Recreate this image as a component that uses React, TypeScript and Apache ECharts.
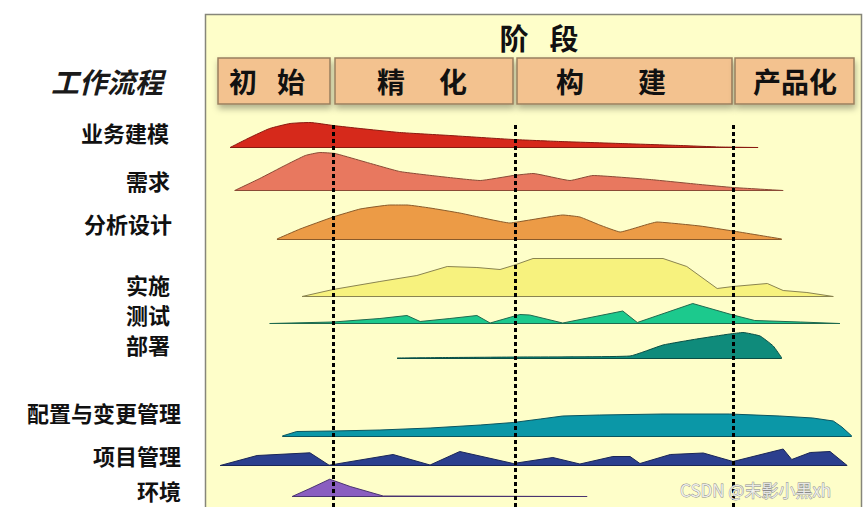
import React, { useEffect, useRef } from 'react';
import * as echarts from 'echarts';

const FONT = '"Noto Sans CJK SC", "Noto Sans", sans-serif';

// Workflow categories and phase names
const workflows = ['业务建模', '需求', '分析设计', '实施', '测试', '部署', '配置与变更管理', '项目管理', '环境'];
const phases = ['初始', '精化', '构建', '产品化'];
// Phase boundaries on the time axis (0–100)
const phaseBoundaries = [19.4, 47.0, 80.0];

// Time (0–100) and effort level for each workflow
const tBusiness = [3.8, 6.8, 9.8, 12.9, 15.9, 19.4, 23.5, 29.5, 37.1, 46.7, 53.8, 62.9, 72.0, 78.0, 83.8];
const hBusiness = [0, 10, 19, 24, 25, 22, 19, 15, 12, 8, 6, 4, 2, 0.5, 0];

const tRequire = [4.5, 8.3, 12.1, 15.2, 17.4, 19.7, 23.5, 29.5, 35.6, 41.7, 46.7, 49.7, 55.3, 58.8, 67.4, 75.0, 80.0, 87.6];
const hRequire = [0, 12, 25, 35, 38, 37, 30, 19, 14, 10, 15, 17, 10, 15, 11, 6, 3, 0];

const tDesign = [10.9, 14.4, 19.4, 23.5, 28.0, 30.6, 34.1, 38.6, 46.2, 49.2, 54.2, 56.8, 59.8, 62.9, 68.5, 75.0, 80.0, 87.4];
const hDesign = [0, 10, 22, 30, 34, 34, 31, 26, 16, 19, 24, 22, 14, 7, 17, 13, 8, 0];

const tImpl = [14.7, 19.4, 26.5, 32.1, 36.7, 41.2, 44.7, 46.7, 49.7, 69.4, 73.0, 77.6, 80.0, 85.2, 87.6, 91.2, 95.2];
const hImpl = [0, 7, 15, 21, 30, 29, 27, 31, 38, 38, 30, 8, 10, 13, 6, 4, 0];

const tTest = [9.8, 19.4, 26.5, 30.6, 32.6, 37.1, 41.2, 43.2, 47.7, 49.2, 54.2, 63.3, 65.5, 73.9, 80.0, 83.3, 90.2, 96.2];
const hTest = [0, 1.5, 5, 8, 2, 5, 8, 0.5, 9, 8.5, 0.5, 12.5, 1, 20, 8.5, 3, 1.5, 0];

const tDeploy = [29.1, 37.1, 47.7, 64.4, 69.4, 74.5, 79.5, 81.5, 84.1, 86.1, 87.4];
const hDeploy = [0, 0.5, 1, 2, 13, 19, 24, 25.5, 22, 12, 0];

const tConfig = [11.7, 13.9, 19.4, 26.5, 34.1, 41.7, 46.7, 50.8, 54.2, 59.8, 69.4, 79.5, 87.1, 92.1, 95.2, 96.5, 98.0];
const hConfig = [0, 4.5, 5, 6, 8, 11, 13.5, 17, 20, 21, 22, 22, 20, 18, 15, 9, 0];

const tProject = [2.3, 7.9, 15.9, 18.8, 28.5, 34.1, 38.6, 46.7, 52.7, 56.8, 61.8, 64.4, 65.9, 70.5, 75.5, 80.0, 87.6, 88.9, 91.7, 94.7, 97.3];
const hProject = [0, 10, 12.7, 0.3, 11, 0.5, 14, 2, 8, 1.5, 9, 9, 2, 11, 12.5, 4, 16.5, 6, 13, 14, 0];

const tEnv = [13.2, 15.9, 18.9, 22.0, 27.0, 57.9];
const hEnv = [0, 8, 17.3, 10, 0.5, 0];

const times = [tBusiness, tRequire, tDesign, tImpl, tTest, tDeploy, tConfig, tProject, tEnv];
const levels = [hBusiness, hRequire, hDesign, hImpl, hTest, hDeploy, hConfig, hProject, hEnv];

// Styling / layout (kept apart from data)
const fills = ['#d6291b', '#e8785f', '#ec9b46', '#f7f27e', '#1cc98d', '#0f8b7b', '#0b97a7', '#2b3f8e', '#8a5ec0'];
const strokes = ['#8a1a10', '#8a4a36', '#8a5a2a', '#8a8450', '#1f6a4e', '#0a4f46', '#0a5560', '#1a2658', '#4a3470'];
const smoothness = [0.15, 0.12, 0.1, 0, 0, 0.12, 0, 0, 0];
const baselines = [147.5, 190.5, 239, 296.5, 323.5, 358, 436, 465.5, 496.5];
const labelY = [132, 180, 223, 284, 314, 344, 412, 455, 490];
const labelRight = [169, 170, 172, 170, 170, 170, 181, 181, 181];

const PANEL_LEFT = 205;
const PANEL_W = 660;
const ROW_H = 40;

export default function App() {
  const ref = useRef<HTMLDivElement>(null);
  useEffect(() => {
    const chart = echarts.init(ref.current as HTMLDivElement, null, { renderer: 'svg' });

    const grids: any[] = [];
    const xAxes: any[] = [];
    const yAxes: any[] = [];
    const series: any[] = [];

    workflows.forEach((name, i) => {
      grids.push({ left: PANEL_LEFT, width: PANEL_W, top: baselines[i] - ROW_H, height: ROW_H });
      xAxes.push({ gridIndex: i, type: 'value', min: 0, max: 100, show: false });
      yAxes.push({ gridIndex: i, type: 'value', min: 0, max: ROW_H, show: false });
      const t = times[i];
      const h = levels[i];
      series.push({
        name,
        type: 'line',
        xAxisIndex: i,
        yAxisIndex: i,
        data: t.map((x, j) => [x, h[j]]),
        symbol: 'none',
        smooth: smoothness[i],
        lineStyle: { color: strokes[i], width: 1 },
        areaStyle: { color: fills[i], opacity: 1 },
        markLine: {
          silent: true,
          symbol: 'none',
          label: { show: false },
          lineStyle: { color: strokes[i], width: 1, type: 'solid' },
          data: [[{ coord: [t[0], 0] }, { coord: [t[t.length - 1], 0] }]],
        },
      });
    });

    // overlay grid for phase boundaries
    const ov = workflows.length;
    grids.push({ left: PANEL_LEFT, width: PANEL_W, top: 125, height: 382 });
    xAxes.push({ gridIndex: ov, type: 'value', min: 0, max: 100, show: false });
    yAxes.push({ gridIndex: ov, type: 'value', min: 0, max: 1, show: false });
    series.push({
      type: 'line',
      xAxisIndex: ov,
      yAxisIndex: ov,
      data: [],
      z: 10,
      markLine: {
        silent: true,
        symbol: 'none',
        label: { show: false },
        lineStyle: { color: '#000', width: 3, type: [4, 3] },
        data: phaseBoundaries.map((b) => ({ xAxis: b })),
      },
    });

    const boxes = [
      { x: 218, w: 112 },
      { x: 335, w: 178 },
      { x: 517, w: 215 },
      { x: 735, w: 119 },
    ];
    const boxChars: { text: string; cx: number }[][] = [
      [{ text: phases[0][0], cx: 243 }, { text: phases[0][1], cx: 291 }],
      [{ text: phases[1][0], cx: 391 }, { text: phases[1][1], cx: 453 }],
      [{ text: phases[2][0], cx: 570 }, { text: phases[2][1], cx: 652 }],
      [{ text: phases[3], cx: 795 }],
    ];

    const graphics: any[] = [
      {
        type: 'rect',
        z: -10,
        shape: { x: 205.5, y: 14.5, width: 656, height: 500 },
        style: { fill: '#fefec9', stroke: '#86867a', lineWidth: 1.5 },
      },
      {
        type: 'text',
        x: 514,
        y: 37,
        style: { text: '阶', font: `bold 29px ${FONT}`, fill: '#111', align: 'center', verticalAlign: 'middle' },
      },
      {
        type: 'text',
        x: 564,
        y: 37,
        style: { text: '段', font: `bold 29px ${FONT}`, fill: '#111', align: 'center', verticalAlign: 'middle' },
      },
      {
        type: 'text',
        x: 107,
        y: 81,
        style: { text: '工作流程', font: `italic bold 28px ${FONT}`, fill: '#1a1a1a', align: 'center', verticalAlign: 'middle' },
      },
    ];

    boxes.forEach((b) => {
      graphics.push({
        type: 'rect',
        shape: { x: b.x, y: 58, width: b.w, height: 46 },
        style: {
          fill: '#f3c28f',
          stroke: '#9a8060',
          lineWidth: 1.5,
          shadowBlur: 6,
          shadowOffsetY: 4,
          shadowOffsetX: 1,
          shadowColor: 'rgba(0,0,0,0.3)',
        },
      });
    });
    boxChars.forEach((chars) =>
      chars.forEach((c) => {
        graphics.push({
          type: 'text',
          x: c.cx,
          y: 81,
          style: { text: c.text, font: `bold 28px ${FONT}`, fill: '#111', align: 'center', verticalAlign: 'middle' },
        });
      })
    );

    workflows.forEach((name, i) => {
      graphics.push({
        type: 'text',
        x: labelRight[i],
        y: labelY[i],
        style: { text: name, font: `bold 22px ${FONT}`, fill: '#111', align: 'right', verticalAlign: 'middle' },
      });
    });

    graphics.push({
      type: 'text',
      z: 100,
      x: 680,
      y: 489,
      style: {
        text: 'CSDN @末影小黑xh',
        font: `17px ${FONT}`,
        fill: 'rgba(245,245,245,0.85)',
        stroke: '#8a8a8a',
        lineWidth: 0.8,
        align: 'left',
        verticalAlign: 'middle',
      },
    });

    chart.setOption({
      animation: false,
      backgroundColor: '#ffffff',
      grid: grids,
      xAxis: xAxes,
      yAxis: yAxes,
      series,
      graphic: { elements: graphics },
    });

    return () => chart.dispose();
  }, []);

  return <div ref={ref} style={{ position: 'fixed', left: 0, top: 0, width: 865, height: 507 }} />;
}
